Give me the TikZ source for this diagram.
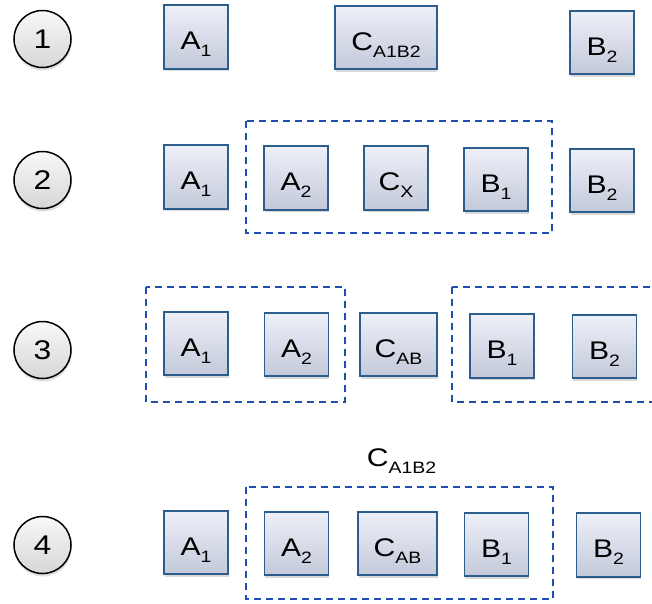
\documentclass[tikz,border=0pt]{standalone}
\usepackage{fontspec}
\setmainfont{Liberation Sans}[FakeStretch=1.18]
\usepackage{tikz}
\usetikzlibrary{shadows}
\definecolor{boxedge}{HTML}{2C5D8C}
\definecolor{boxtop}{HTML}{EEF0F8}
\definecolor{boxbot}{HTML}{C3C9DA}
\definecolor{dashblue}{HTML}{1E4FAE}
\newcommand{\lo}[1]{\raisebox{-7pt}{\fontsize{16.5}{17}\selectfont #1}}

\begin{document}
\begin{tikzpicture}[x=1pt,y=-1pt,
  blk/.style={draw=boxedge,line width=1.9pt,top color=boxtop,bottom color=boxbot,
    minimum width=64pt,minimum height=63.5pt,inner sep=0pt,
    text height=25pt,text depth=0pt,font=\fontsize{25.5}{28}\selectfont,
    drop shadow={shadow xshift=0.5pt,shadow yshift=-2.5pt,opacity=0.3}},
  num/.style={circle,draw=black,line width=1.5pt,top color=gray!5,bottom color=gray!32,
    minimum size=57pt,inner sep=0pt,font=\fontsize{27}{30}\selectfont,
    drop shadow={shadow xshift=0.5pt,shadow yshift=-3pt,opacity=0.25}},
  grp/.style={draw=dashblue,line width=1.8pt,dash pattern=on 7pt off 5pt}]
\useasboundingbox (0,0) rectangle (652,603);
\clip (0,0) rectangle (652,603);

\foreach \n/\y in {1/39,2/180,3/350,4/545}
  \node[num] (s\n) at (42.5,\y) {\n};

\node[blk] (r1a1) at (196,37) {A\lo{1}};
\node[blk,minimum width=101.5pt] (r1c) at (386,37.5) {C\lo{A1B2}};
\node[blk] (r1b2) at (602,42.5) {B\lo{2}};

\draw[grp] (246,121) rectangle (552,233);
\node[blk] (r2a1) at (196,177) {A\lo{1}};
\node[blk] (r2a2) at (296,178) {A\lo{2}};
\node[blk] (r2c) at (396,178) {C\lo{X}};
\node[blk] (r2b1) at (496,179.5) {B\lo{1}};
\node[blk] (r2b2) at (602,180.5) {B\lo{2}};

\draw[grp] (146,287) rectangle (345,402);
\draw[grp] (452,287) rectangle (670,402);
\node[blk] (r3a1) at (196,343.5) {A\lo{1}};
\node[blk] (r3a2) at (296.5,344.5) {A\lo{2}};
\node[blk,minimum width=77pt] (r3c) at (398.5,344.5) {C\lo{AB}};
\node[blk] (r3b1) at (502,346) {B\lo{1}};
\node[blk] (r3b2) at (604.5,346.5) {B\lo{2}};

\node[text height=25pt,text depth=0pt,inner sep=0pt,font=\fontsize{25.5}{28}\selectfont]
  (r4lbl) at (401.5,454) {C\lo{A1B2}};
\draw[grp] (246,487) rectangle (553,599);
\node[blk] (r4a1) at (196,542.5) {A\lo{1}};
\node[blk] (r4a2) at (296.5,543.5) {A\lo{2}};
\node[blk,minimum width=79pt] (r4c) at (397.5,543.5) {C\lo{AB}};
\node[blk] (r4b1) at (496.5,544.5) {B\lo{1}};
\node[blk] (r4b2) at (608.5,545) {B\lo{2}};
\end{tikzpicture}
\end{document}
